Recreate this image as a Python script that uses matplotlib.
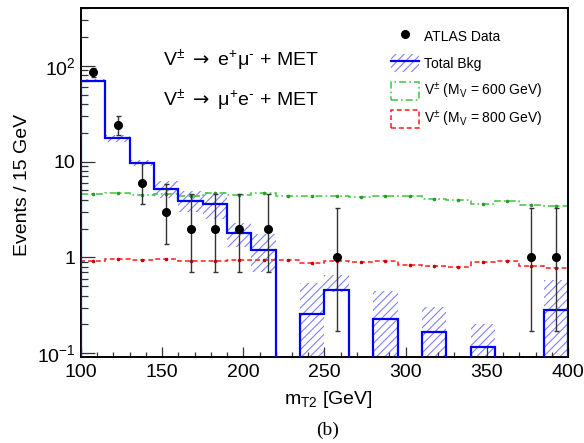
import numpy as np
import matplotlib
matplotlib.use("Agg")
import matplotlib.pyplot as plt
from matplotlib.lines import Line2D
from matplotlib.patches import Patch, Rectangle
from matplotlib.legend_handler import HandlerPatch
from matplotlib.ticker import MultipleLocator, LogLocator, FixedLocator, FuncFormatter, NullFormatter

plt.rcParams["font.family"] = ["Liberation Sans", "DejaVu Sans"]
plt.rcParams["mathtext.fontset"] = "custom"
plt.rcParams["mathtext.rm"] = "Liberation Sans"
plt.rcParams["mathtext.it"] = "Liberation Sans:italic"
plt.rcParams["mathtext.bf"] = "Liberation Sans:bold"
plt.rcParams["mathtext.sf"] = "DejaVu Sans"
plt.rcParams["lines.scale_dashes"] = False
plt.rcParams["hatch.linewidth"] = 0.8

# m_T2 binning (15 GeV bins, 100-400 GeV)
bin_edges = np.arange(100, 415, 15)

# Total background prediction per bin and its uncertainty band
bkg = [70, 17.5, 9.6, 5.2, 3.9, 3.57, 1.78, 1.19, 0, 0.26,
       0.46, 0, 0.227, 0, 0.167, 0, 0.115, 0, 0, 0.284]
bkg_lo = [67, 16.0, 8.9, 4.2, 3.0, 2.5, 1.3, 0.7, 0, 0,
          0.44, 0, 0, 0, 0, 0, 0, 0, 0, 0]
bkg_hi = [73, 19.0, 10.3, 6.2, 4.9, 4.8, 2.3, 1.75, 0, 0.535,
          0.65, 0, 0.448, 0, 0.305, 0, 0.20, 0, 0, 0.58]

# Signal expectations
sig600 = [4.58, 4.66, 4.43, 4.61, 4.37, 4.69, 4.50, 4.72, 4.37, 4.39,
          4.39, 4.22, 4.39, 4.34, 4.10, 4.00, 3.64, 3.85, 3.50, 3.45]
sig800 = [0.91, 0.966, 0.93, 0.953, 0.914, 0.914, 0.937, 0.937, 0.93, 0.865,
          0.92, 0.89, 0.91, 0.83, 0.81, 0.79, 0.89, 0.91, 0.82, 0.78]

# Observed events with Poisson error intervals
data_x = [107.5, 122.5, 137.5, 152.5, 167.5, 182.5, 197.5, 215.5, 257.5, 377.5, 392.5]
data_y = [85, 24, 6, 3, 2, 2, 2, 2, 1, 1, 1]
data_lo = [76, 19.1, 3.6, 1.37, 0.71, 0.71, 0.71, 0.71, 0.17, 0.17, 0.17]
data_hi = [95, 30.0, 9.6, 5.9, 4.6, 4.6, 4.6, 4.6, 3.3, 3.3, 3.3]

ytick_vals = [0.1, 1, 10, 100]
ytick_text = ["$10^{-1}$", "1", "10", "$10^{2}$"]

W, H = 584, 443
fig = plt.figure(figsize=(W / 100, H / 100), dpi=100)
ax = fig.add_axes([81 / W, 1 - 357 / H, (568 - 81) / W, (357 - 8) / H])

floor = 1e-4
edges = np.asarray(bin_edges, dtype=float)
b = np.asarray(bkg, dtype=float)
lo = np.asarray(bkg_lo, dtype=float)
hi = np.asarray(bkg_hi, dtype=float)

hatch_col = "#8080ff"
plt.rcParams["hatch.color"] = hatch_col
mask = hi > 0
ax.bar(edges[:-1][mask], (hi - np.maximum(lo, floor))[mask], bottom=np.maximum(lo, floor)[mask],
       width=15, align="edge", facecolor="none", edgecolor=hatch_col, linewidth=0,
       hatch="////", zorder=1)

green = "#3ec43e"
red = "#ff1a1a"
dashdot = (0, (5.0, 2.2, 1.2, 2.2))
dashed = (0, (3.5, 2.2))
centers = 0.5 * (edges[:-1] + edges[1:])
ax.stairs(sig600, edges, color=green, lw=1.1, linestyle=dashdot, zorder=2)
ax.plot(centers, sig600, linestyle="none", marker="o", ms=1.6, color="#2a9a2a", zorder=2)
ax.stairs(sig800, edges, color=red, lw=1.1, linestyle=dashed, zorder=2)
ax.plot(centers, sig800, linestyle="none", marker="o", ms=1.6, color="#cc0000", zorder=2)

ax.stairs(np.maximum(b, floor), edges, baseline=floor, color="#0000ff", lw=1.6, zorder=3)

dy = np.asarray(data_y, dtype=float)
yerr = [dy - np.asarray(data_lo), np.asarray(data_hi) - dy]
ax.errorbar(data_x, dy, yerr=yerr, fmt="o", color="black", ms=5.5,
            ecolor="#333333", elinewidth=1.0, capsize=1.8, capthick=1.0, zorder=4)

ax.set_yscale("log")
ax.set_xlim(100, 400)
ax.set_ylim(0.0915, 400)

ax.xaxis.set_major_locator(MultipleLocator(50))
ax.xaxis.set_minor_locator(MultipleLocator(10))
ax.yaxis.set_major_locator(FixedLocator(ytick_vals))
ax.yaxis.set_major_formatter(FuncFormatter(lambda v, p: dict(zip(ytick_vals, ytick_text)).get(v, "")))
ax.yaxis.set_minor_locator(LogLocator(base=10, subs=np.arange(2, 10), numticks=20))
ax.yaxis.set_minor_formatter(NullFormatter())

ax.tick_params(axis="both", which="both", direction="in", colors="#333333", labelcolor="black",
               labelsize=14, width=0.9, top=False, right=False)
ax.tick_params(axis="y", which="major", length=10, pad=4)
ax.tick_params(axis="y", which="minor", length=5)
ax.tick_params(axis="x", which="major", length=7, pad=5)
ax.tick_params(axis="x", which="minor", length=3.5)
for s in ax.spines.values():
    s.set_linewidth(1.4)
    s.set_color("black")

fig.text(22.5 / W, 1 - 185 / H, "Events / 15 GeV", rotation=90, ha="center", va="center", fontsize=14)
fig.text(328 / W, 1 - 400 / H, r"m$_{\mathrm{T2}}$ [GeV]", ha="center", va="center", fontsize=14)
fig.text(328 / W, 1 - 430 / H, "(b)", ha="center", va="center", fontsize=14,
         family=["Liberation Serif", "DejaVu Serif"])

fig.text(163 / W, 1 - 60 / H, r"V$^{\pm}$ $\mathsf{\rightarrow}$ e$^{+}$μ$^{\text{-}}$ + MET",
         ha="left", va="center", fontsize=14)
fig.text(163 / W, 1 - 100 / H, r"V$^{\pm}$ $\mathsf{\rightarrow}$ μ$^{+}$e$^{\text{-}}$ + MET",
         ha="left", va="center", fontsize=14)


def legend_box(legend, orig_handle, xdescent, ydescent, width, height, fontsize):
    # fixed-height box centred in the legend row
    bh = 1.3 * fontsize
    return Rectangle((-xdescent, -ydescent + (height - bh) / 2), width, bh)


h_data = Line2D([], [], marker="o", color="black", linestyle="none", ms=5.5)
h_bkg = (Patch(facecolor="none", edgecolor=hatch_col, linewidth=0, hatch="////"),
         Line2D([], [], color="#0000ff", lw=1.6))
h_600 = Patch(facecolor="none", edgecolor=green, linewidth=1.1, linestyle=dashdot)
h_800 = Patch(facecolor="none", edgecolor=red, linewidth=1.1, linestyle=dashed)
fig.legend([h_data, h_bkg, h_600, h_800],
           ["ATLAS Data", "Total Bkg",
            r"V$^{\pm}$ (M$_{\mathrm{V}}$ = 600 GeV)", r"V$^{\pm}$ (M$_{\mathrm{V}}$ = 800 GeV)"],
           handler_map={Patch: HandlerPatch(patch_func=legend_box)},
           loc="upper left", bbox_to_anchor=(391 / W, 1 - 27 / H), frameon=False,
           fontsize=10, handlelength=2.0, handleheight=1.75, handletextpad=0.36,
           labelspacing=0.55, borderpad=0, borderaxespad=0)

fig.savefig("out.png", dpi=100)
